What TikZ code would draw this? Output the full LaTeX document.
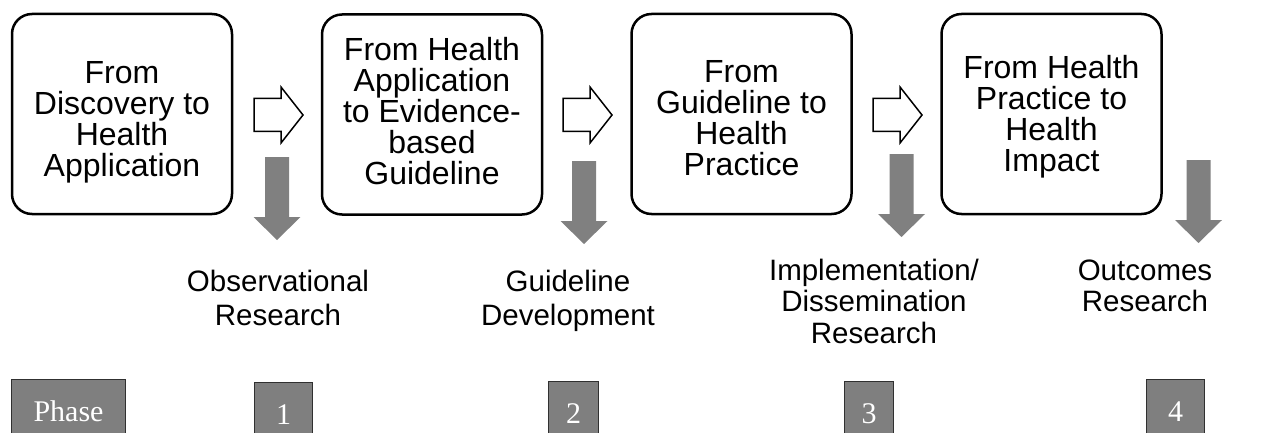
\documentclass[tikz,border=0pt]{standalone}
\usepackage{fontspec}
\setmainfont{Liberation Sans}
\newfontfamily\serifph{Liberation Serif}
\definecolor{arrowgray}{HTML}{808080}
\definecolor{phasegray}{HTML}{7F7F7F}
\definecolor{phaseborder}{HTML}{303030}
\begin{document}
\begin{tikzpicture}[x=1pt,y=-1pt,
  stage/.style={draw=black, line width=2.5pt, rounded corners=20pt, minimum width=220pt, minimum height=200pt, inner sep=0pt},
  stagetext/.style={font=\fontsize{32}{31}\selectfont, align=center, inner sep=0pt},
  research/.style={font=\fontsize{29.5}{34}\selectfont, align=center, inner sep=0pt},
  researchtight/.style={font=\fontsize{29.5}{31.5}\selectfont, align=center, inner sep=0pt},
  phasebox/.style={draw=phaseborder, fill=phasegray, line width=1pt, text=white, font=\serifph\fontsize{30}{30}\selectfont, anchor=north west, minimum height=64pt, inner sep=0pt},
  pics/hollow arrow/.style={code={\draw[line width=1.5pt, fill=white, line join=miter] (0,-16.5) -- (27,-16.5) -- (27,-28) -- (49,0) -- (27,28) -- (27,16.5) -- (0,16.5) -- cycle;}},
  pics/down arrow/.style={code={\fill[arrowgray] (-12,0) -- (12,0) -- (12,60) -- (23.5,60) -- (0,83) -- (-23.5,60) -- (-12,60) -- cycle;}}
]
\useasboundingbox (0,0) rectangle (1271,433);
\fill[white] (0,0) rectangle (1271,433);
\clip (0,0) rectangle (1271,433);

% stage boxes
\node[stage, label={[stagetext, yshift=-8pt]center:{From\\Discovery to\\Health\\Application}}] (b1) at (122,114) {};
\node[stage, label={[stagetext, yshift=3pt]center:{From Health\\Application\\to Evidence-\\based\\Guideline}}] (b2) at (432,114.5) {};
\node[stage, label={[stagetext, yshift=-4pt]center:{From\\Guideline to\\Health\\Practice}}] (b3) at (741.5,114) {};
\node[stage, label={[stagetext, yshift=-2.5pt]center:{From Health\\Practice to\\Health\\Impact}}] (b4) at (1051.5,114) {};

% hollow arrows between boxes
\pic at (254,115) {hollow arrow};
\pic at (563,115) {hollow arrow};
\pic at (873,115) {hollow arrow};

% grey down arrows
\pic at (277,157) {down arrow};
\pic at (584,161) {down arrow};
\pic at (901.5,154) {down arrow};
\pic at (1198.5,160) {down arrow};

% research labels
\node[research] (r1) at (278,298) {Observational\\Research};
\node[research] (r2) at (568,300.5) {Guideline\\Development};
\node[researchtight] (r3) at (874,301) {Implementation/\\Dissemination\\Research};
\node[researchtight] (r4) at (1145,286) {Outcomes\\Research};

% phase boxes
\node[phasebox, minimum width=114pt] (ph) at (11,379) {Phase};
\node[phasebox, minimum width=58pt] (p1) at (254,382) {1};
\node[phasebox, minimum width=50pt] (p2) at (548,381) {2};
\node[phasebox, minimum width=49pt] (p3) at (844,381) {3};
\node[phasebox, minimum width=58pt] (p4) at (1146,379) {4};
\end{tikzpicture}
\end{document}
